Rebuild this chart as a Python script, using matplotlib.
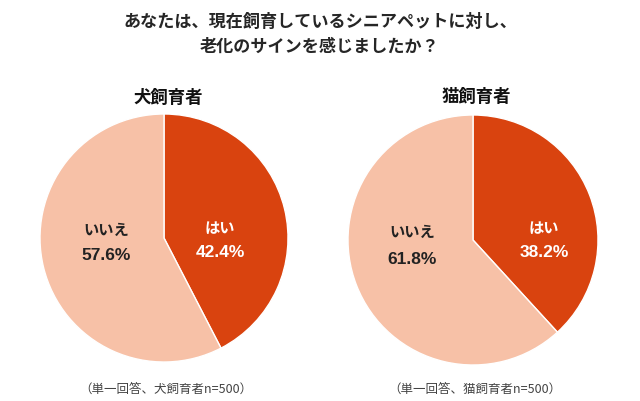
import matplotlib.pyplot as plt

plt.rcParams['font.family'] = ['Noto Sans CJK JP', 'DejaVu Sans']

title = "あなたは、現在飼育しているシニアペットに対し、\n老化のサインを感じましたか？"
groups = ["犬飼育者", "猫飼育者"]
answers = ["はい", "いいえ"]
yes_pct = [42.4, 38.2]
no_pct = [57.6, 61.8]
notes = ["（単一回答、犬飼育者n=500）", "（単一回答、猫飼育者n=500）"]
colors = ["#D9430F", "#F7C1A7"]

fig = plt.figure(figsize=(6.4, 4.02), dpi=100)
fig.text(0.5, 0.915, title, ha='center', va='center', fontsize=12.3,
         fontweight='bold', color='#262626', linespacing=1.5)

W, H = 640, 402
radii = [124, 125]
centers = [(164, 239), (473, 241)]
title_pos = [(168, 98), (476, 97)]
# label centres in pixels for はい / いいえ (answer text, percent text)
label_pos = [[(220, 228, 253), (106, 230, 255)],
             [(544, 228, 253), (412, 232, 260)]]

for i, g in enumerate(groups):
    cx, cy = centers[i]
    r = radii[i]
    ax = fig.add_axes([(cx - r) / W, (H - cy - r) / H, 2 * r / W, 2 * r / H])
    vals = [yes_pct[i], no_pct[i]]
    ax.pie(vals, colors=colors, startangle=90, counterclock=False,
           wedgeprops=dict(edgecolor='white', linewidth=1))
    ax.set_xlim(-1, 1)
    ax.set_ylim(-1, 1)
    ax.axis('off')
    for j, a in enumerate(answers):
        x, y1, y2 = label_pos[i][j]
        tc = 'white' if j == 0 else '#222222'
        fig.text(x / W, 1 - y1 / H, a, ha='center', va='center',
                 fontsize=11, fontweight='bold', color=tc)
        fig.text(x / W, 1 - y2 / H, f"{vals[j]:.1f}%", ha='center',
                 va='center', fontsize=12.5, fontweight='bold', color=tc,
                 family=['Liberation Sans'])
    tx, ty = title_pos[i]
    fig.text(tx / W, 1 - ty / H, g, ha='center', va='center',
             fontsize=12.5, fontweight='bold', color='#111111')
    fig.text((cx + 2) / W, 1 - 389 / H, notes[i], ha='center', va='center',
             fontsize=9, color='#444444')

fig.savefig('out.png', dpi=100)
